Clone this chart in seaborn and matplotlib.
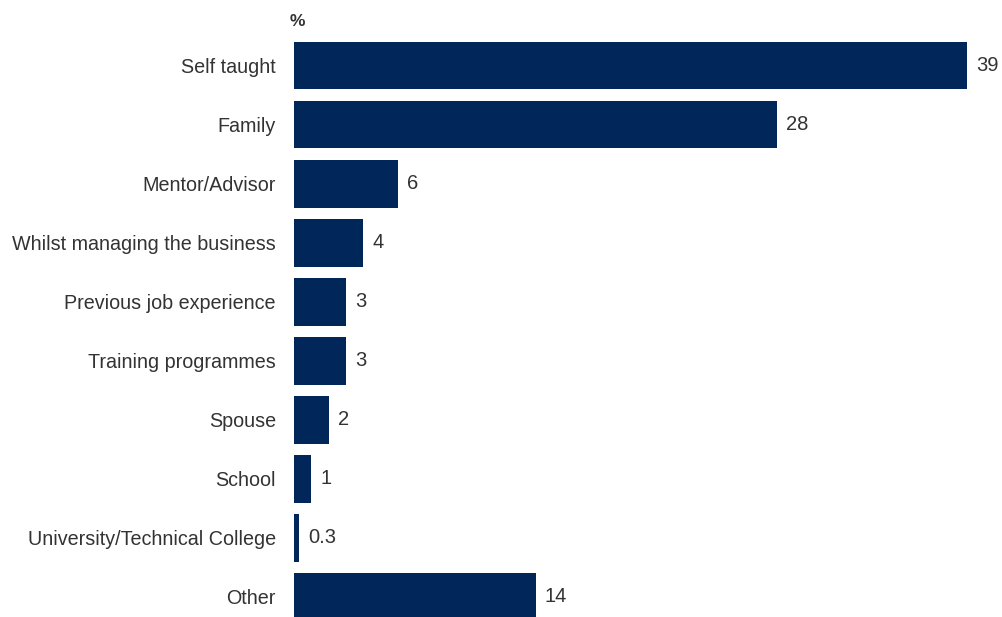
import matplotlib
matplotlib.use("Agg")
import matplotlib.pyplot as plt
from matplotlib import font_manager
import seaborn as sns
import pandas as pd

categories = [
    "Self taught",
    "Family",
    "Mentor/Advisor",
    "Whilst managing the business",
    "Previous job experience",
    "Training programmes",
    "Spouse",
    "School",
    "University/Technical College",
    "Other",
]
values = [39, 28, 6, 4, 3, 3, 2, 1, 0.3, 14]
value_labels = ["39", "28", "6", "4", "3", "3", "2", "1", "0.3", "14"]

df = pd.DataFrame({"source": categories, "pct": values})

sns.set_theme(style="white")
names = {f.name for f in font_manager.fontManager.ttflist}
family = "Liberation Sans Narrow" if "Liberation Sans Narrow" in names else "Liberation Sans"
plt.rcParams["font.family"] = [family, "DejaVu Sans"]

BAR = "#00265a"
TEXT = "#333333"

W, H = 1003, 617
fig = plt.figure(figsize=(W / 100, H / 100), dpi=100)
left_px, right_px, top_px, bottom_px = 294, 984, 36, 617
ax = fig.add_axes([left_px / W, 1 - bottom_px / H,
                   (right_px - left_px) / W, (bottom_px - top_px) / H])

sns.barplot(data=df, x="pct", y="source", color=BAR, width=0.81,
            saturation=1, linewidth=0, ax=ax, orient="h")

ax.set_xlim(0, 40)
ax.set_ylim(9 + 20 / 59, -0.5)
ax.set_xlabel("")
ax.set_ylabel("")
ax.set_xticks([])
ax.tick_params(axis="y", length=0, pad=13, labelsize=14.2, labelcolor=TEXT)
for s in ax.spines.values():
    s.set_visible(False)

for i, (v, lab) in enumerate(zip(values, value_labels)):
    ax.annotate(lab, xy=(v, i), xytext=(6.5, 0), textcoords="offset points",
                ha="left", va="center", fontsize=14.5, color=TEXT)

fig.text(290 / W, 1 - 22 / H, "%", ha="left", va="center",
         fontsize=12.5, color=TEXT, fontweight="semibold")

fig.savefig("out.png", dpi=100)
